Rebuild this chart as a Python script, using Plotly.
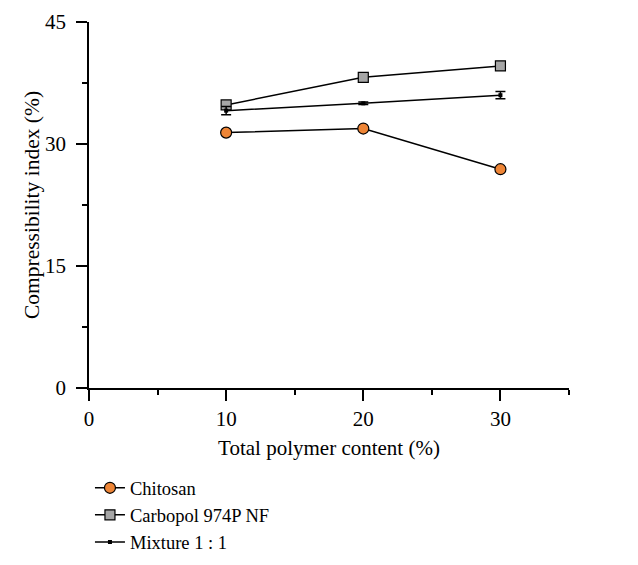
import plotly.graph_objects as go

x_vals = [10, 20, 30]
chitosan = [31.4, 31.9, 26.9]
carbopol = [34.8, 38.2, 39.6]
mixture = [34.1, 35.0, 36.0]
mixture_err = [0.5, 0.15, 0.45]

font_family = "Liberation Serif, Times New Roman, serif"

fig = go.Figure()
fig.add_trace(go.Scatter(
    x=x_vals, y=chitosan, name="Chitosan", mode="lines+markers",
    line=dict(color="black", width=1.5),
    marker=dict(symbol="circle", size=11, color="#EE8536", line=dict(color="black", width=1.2)),
))
fig.add_trace(go.Scatter(
    x=x_vals, y=carbopol, name="Carbopol 974P NF", mode="lines+markers",
    line=dict(color="black", width=1.5),
    marker=dict(symbol="square", size=10, color="#A6A6A6", line=dict(color="black", width=1.2)),
))
fig.add_trace(go.Scatter(
    x=x_vals, y=mixture, name="Mixture 1 : 1", mode="lines+markers",
    line=dict(color="black", width=1.5),
    marker=dict(symbol="square", size=4, color="black"),
    error_y=dict(type="data", array=mixture_err, color="black", thickness=1.5, width=5),
))

# page body has an 8px default margin, so offsets are reduced by 8px
fig.update_layout(
    width=630, height=557,
    margin=dict(l=81, r=69, t=14, b=177, autoexpand=False),
    paper_bgcolor="white", plot_bgcolor="white",
    font=dict(family=font_family, size=19, color="black"),
    showlegend=True,
    legend=dict(x=0.002, y=-0.222, xanchor="left", yanchor="top",
                font=dict(family=font_family, size=18.5, color="black"),
                bgcolor="rgba(0,0,0,0)", tracegroupgap=0, itemwidth=30),
)
fig.update_xaxes(
    range=[0, 35], tickvals=[0, 10, 20, 30], showgrid=False, zeroline=False,
    automargin=False,
    showline=True, linecolor="black", linewidth=1.5,
    ticks="outside", ticklen=11, tickwidth=1.5, tickcolor="black",
    minor=dict(tickvals=[5, 15, 25, 35], ticks="outside", ticklen=5, tickwidth=1.5, tickcolor="black"),
    tickfont=dict(size=21),
    title=dict(text="Total polymer content (%)", font=dict(size=21), standoff=10),
)
fig.update_yaxes(
    range=[0, 45], tickvals=[0, 15, 30, 45], showgrid=False, zeroline=False,
    automargin=False,
    showline=True, linecolor="black", linewidth=1.5,
    ticks="outside", ticklen=11, tickwidth=1.5, tickcolor="black",
    ticklabelstandoff=6,
    minor=dict(tickvals=[7.5, 22.5, 37.5], ticks="outside", ticklen=5, tickwidth=1.5, tickcolor="black"),
    tickfont=dict(size=21),
    title=dict(text="Compressibility index (%)", font=dict(size=21.5), standoff=0),
)

fig.write_html("out.html")
